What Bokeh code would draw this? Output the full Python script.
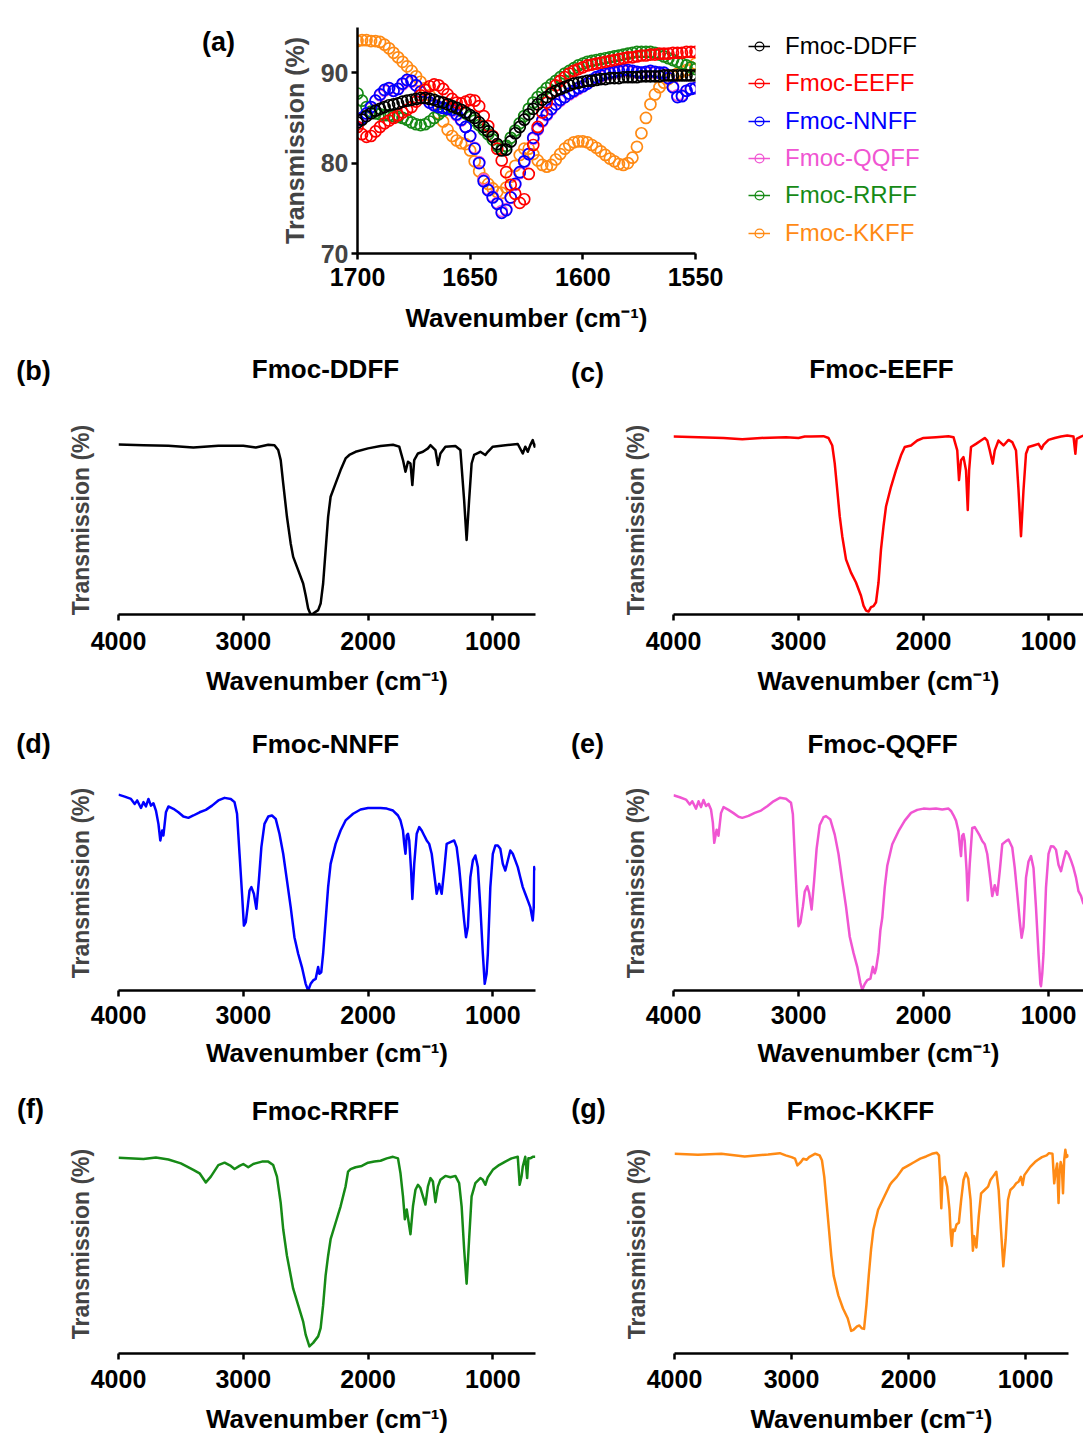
from bokeh.plotting import figure
from bokeh.models import Range1d, FixedTicker, Label, Legend, LegendItem, ColumnDataSource
from bokeh.layouts import column, row
from bokeh.embed import file_html
from bokeh.resources import INLINE

FONT = "Liberation Sans"

# ---------------- (a) amide I region, 1700-1550 cm-1 ----------------
amide_wn = list(range(1700, 1549, -2))

ddff_amide = [84.5, 84.8, 85.2, 85.5, 85.8, 86.0, 86.2, 86.4, 86.5, 86.6,
              86.8, 86.9, 87.0, 87.1, 87.2, 87.2, 87.1, 87.0, 86.8, 86.7,
              86.5, 86.3, 86.1, 85.9, 85.6, 85.3, 85.0, 84.5, 84.0, 83.5,
              82.9, 82.1, 81.4, 81.5, 82.4, 83.3, 84.0, 84.8, 85.4, 86.0,
              86.5, 87.0, 87.3, 87.7, 88.0, 88.2, 88.4, 88.6, 88.8, 88.9,
              89.0, 89.1, 89.1, 89.2, 89.3, 89.3, 89.4, 89.4, 89.4, 89.5,
              89.5, 89.5, 89.5, 89.6, 89.6, 89.6, 89.6, 89.6, 89.7, 89.7,
              89.7, 89.7, 89.7, 89.7, 89.7, 89.7]
eeff_amide = [84.0, 83.2, 82.9, 83.0, 83.5, 84.0, 84.4, 84.7, 85.0, 85.3,
              85.6, 85.9, 86.2, 86.8, 87.5, 88.1, 88.5, 88.7, 88.6, 88.2,
              87.6, 87.1, 86.7, 86.6, 86.8, 87.0, 86.9, 86.3, 85.2, 84.1,
              83.0, 81.6, 80.3, 79.0, 77.6, 76.6, 75.6, 76.0, 78.8, 82.0,
              84.0, 85.6, 86.7, 87.8, 88.6, 89.1, 89.5, 89.9, 90.2, 90.4,
              90.6, 90.8, 90.9, 91.0, 91.1, 91.2, 91.3, 91.4, 91.5, 91.6,
              91.7, 91.7, 91.8, 91.9, 91.9, 92.0, 92.0, 92.1, 92.1, 92.1,
              92.2, 92.2, 92.2, 92.3, 92.3, 92.3]
nnff_amide = [84.8, 85.0, 85.5, 86.2, 86.9, 87.6, 88.1, 88.3, 88.0, 88.2,
              88.8, 89.2, 89.1, 88.6, 87.9, 87.2, 86.7, 86.4, 86.2, 86.1,
              86.0, 85.9, 85.4, 84.8, 84.0, 83.0, 81.6, 80.0, 78.0, 77.0,
              76.2, 75.5, 74.5, 74.8, 76.2, 77.7, 79.0, 80.2, 81.0, 82.8,
              83.8, 84.7, 85.4, 86.0, 86.5, 87.0, 87.3, 87.7, 88.0, 88.3,
              88.5, 88.8, 89.2, 89.5, 89.7, 89.9, 90.0, 90.1, 90.2, 90.3,
              90.3, 90.2, 90.1, 90.0, 90.1, 90.2, 90.1, 90.0, 90.0, 89.4,
              88.4, 87.3, 87.4, 88.0, 88.2, 88.3]
qqff_amide = [84.7, 85.0, 85.4, 86.1, 86.9, 87.5, 88.0, 88.2, 88.0, 88.2,
              88.7, 89.1, 89.0, 88.6, 87.9, 87.2, 86.7, 86.4, 86.2, 86.1,
              86.0, 85.8, 85.3, 84.7, 84.0, 83.0, 81.7, 80.1, 78.2, 77.1,
              76.3, 75.6, 74.7, 74.9, 76.2, 77.6, 78.9, 80.1, 81.0, 82.7,
              83.7, 84.6, 85.3, 85.9, 86.5, 86.9, 87.3, 87.6, 87.9, 88.2,
              88.5, 88.8, 89.1, 89.4, 89.6, 89.8, 89.9, 90.0, 90.1, 90.2,
              90.2, 90.1, 90.0, 90.0, 90.0, 90.1, 90.0, 90.0, 89.9, 89.4,
              88.5, 87.5, 87.5, 88.0, 88.2, 88.3]
rrff_amide = [87.7, 86.9, 86.2, 85.7, 85.5, 85.4, 85.3, 85.3, 85.2, 85.1,
              85.0, 84.8, 84.5, 84.3, 84.2, 84.3, 84.6, 85.0, 85.4, 85.8,
              86.1, 86.2, 86.1, 85.8, 85.5, 85.1, 84.7, 84.2, 83.7, 83.2,
              82.6, 81.9, 81.6, 81.9, 82.8, 83.6, 84.4, 85.2, 86.0, 86.7,
              87.3, 87.8, 88.3, 88.7, 89.1, 89.5, 89.9, 90.2, 90.5, 90.8,
              91.0, 91.2, 91.3, 91.4, 91.5, 91.6, 91.7, 91.8, 91.9, 92.0,
              92.1, 92.2, 92.3, 92.3, 92.3, 92.3, 92.2, 92.0, 91.8, 91.6,
              91.4, 91.2, 91.0, 90.8, 90.6, 90.4]
kkff_amide = [93.5, 93.6, 93.6, 93.5, 93.5, 93.4, 93.1, 92.7, 92.2, 91.7,
              91.2, 90.7, 90.2, 89.6, 89.0, 88.3, 87.5, 86.5, 85.5, 84.6,
              83.7, 83.0, 82.5, 82.2, 82.1, 81.4, 80.2, 79.1, 78.3, 77.7,
              77.2, 76.8, 76.7, 77.3, 78.5, 79.7, 80.9, 81.6, 81.6, 81.0,
              80.3, 79.8, 79.6, 79.8, 80.4, 81.0, 81.6, 82.0, 82.3, 82.4,
              82.4, 82.3, 82.0, 81.7, 81.3, 80.9, 80.5, 80.2, 79.9, 79.8,
              80.0, 80.6, 81.8, 83.3, 85.0, 86.5, 87.6, 88.4, 88.9, 89.3,
              89.6, 89.9, 90.1, 90.3, 90.6, 91.0]

names = ["Fmoc-DDFF", "Fmoc-EEFF", "Fmoc-NNFF", "Fmoc-QQFF", "Fmoc-RRFF", "Fmoc-KKFF"]
colors = ["#000000", "#ff0000", "#0000ff", "#f055d2", "#168a16", "#ff8a14"]

# ---------------- full spectra, 4000-650 cm-1 ----------------
ddff_wn = [4000, 3800, 3600, 3400, 3200, 3000, 2900, 2800, 2750, 2720, 2700, 2680, 2650, 2620,
           2600, 2560, 2520, 2500, 2480, 2460, 2440, 2400, 2380, 2360, 2340, 2320, 2300, 2260,
           2220, 2180, 2150, 2100, 2000, 1900, 1800, 1750, 1720, 1700, 1680, 1660, 1645, 1630,
           1600, 1560, 1520, 1500, 1460, 1440, 1420, 1380, 1300, 1260, 1230, 1210, 1190, 1170,
           1150, 1100, 1060, 1040, 1000, 900, 800, 760, 740, 720, 700, 680, 665, 655]
ddff_t = [90.0, 89.6, 89.3, 88.4, 89.3, 89.3, 88.4, 89.8, 89.6, 87.0, 81.7, 69.4, 51.7, 37.6,
          30.5, 23.5, 16.4, 10.2, 3.2, 0.0, 0.5, 2.3, 5.8, 16.4, 34.1, 51.7, 62.3, 69.4,
          76.4, 82.6, 84.4, 86.1, 87.9, 89.1, 89.8, 88.8, 81.7, 75.5, 80.8, 79.9, 68.5, 81.7,
          85.2, 86.1, 87.9, 89.6, 87.0, 79.1, 85.2, 88.8, 89.1, 87.0, 60.5, 39.4, 60.5, 79.9,
          84.4, 86.1, 84.4, 86.1, 88.8, 89.6, 90.2, 85.2, 88.8, 86.1, 89.6, 92.3, 88.8, 90.4]

eeff_wn = [4000, 3800, 3600, 3450, 3300, 3100, 3000, 2950, 2900, 2800, 2760, 2730, 2710, 2690,
           2670, 2650, 2620, 2580, 2540, 2500, 2480, 2460, 2440, 2420, 2400, 2380, 2360, 2340,
           2320, 2300, 2260, 2220, 2180, 2150, 2100, 2050, 2000, 1900, 1800, 1760, 1730, 1716,
           1700, 1680, 1660, 1646, 1635, 1620, 1580, 1540, 1510, 1490, 1470, 1446, 1430, 1400,
           1360, 1320, 1290, 1260, 1240, 1220, 1200, 1180, 1160, 1120, 1080, 1056, 1040, 1000,
           950, 900, 850, 800, 785, 775, 760, 740, 720, 680, 650]
eeff_t = [90.0, 89.7, 89.3, 88.7, 89.3, 89.7, 89.3, 90.0, 90.0, 90.2, 89.3, 85.5, 76.3, 63.0,
          49.6, 39.6, 27.9, 21.2, 16.2, 9.5, 4.5, 2.0, 1.5, 3.7, 4.2, 6.2, 16.2, 32.9,
          44.6, 54.6, 64.6, 73.0, 80.5, 84.7, 85.5, 88.0, 89.3, 89.7, 90.2, 89.7, 83.0, 68.0,
          78.0, 79.6, 73.0, 52.9, 73.0, 84.7, 86.3, 88.0, 89.3, 88.0, 83.0, 76.3, 83.0, 88.0,
          85.5, 88.3, 87.2, 83.0, 63.0, 39.6, 63.0, 81.3, 84.7, 85.5, 86.3, 83.8, 85.8, 88.3,
          89.3, 90.0, 90.5, 90.0, 81.3, 88.8, 89.3, 90.0, 90.5, 90.0, 90.0]

nnff_wn = [4000, 3950, 3900, 3870, 3850, 3820, 3800, 3780, 3760, 3740, 3720, 3700, 3680, 3665,
           3650, 3640, 3620, 3600, 3560, 3520, 3480, 3440, 3400, 3350, 3300, 3250, 3200, 3150,
           3100, 3070, 3050, 3030, 3010, 2995, 2980, 2965, 2950, 2935, 2915, 2895, 2875, 2855,
           2830, 2800, 2770, 2740, 2710, 2680, 2650, 2620, 2590, 2560, 2530, 2500, 2480, 2460,
           2440, 2420, 2400, 2390, 2375, 2360, 2340, 2320, 2300, 2260, 2220, 2180, 2120, 2060,
           2000, 1900, 1850, 1800, 1760, 1740, 1720, 1710, 1700, 1690, 1680, 1670, 1655, 1645,
           1630, 1610, 1590, 1570, 1550, 1530, 1510, 1490, 1470, 1450, 1430, 1410, 1390, 1370,
           1340, 1310, 1290, 1270, 1250, 1230, 1215, 1200, 1180, 1160, 1140, 1120, 1100, 1080,
           1065, 1050, 1040, 1020, 1000, 980, 960, 940, 920, 900, 880, 860, 840, 820,
           800, 780, 760, 740, 720, 700, 680, 672, 668, 660]
nnff_t = [91.1, 90.2, 89.1, 86.8, 88.4, 84.9, 87.6, 85.6, 89.1, 86.0, 87.1, 83.7, 77.5, 69.8,
          74.4, 72.1, 82.9, 85.6, 84.5, 82.9, 80.9, 80.3, 81.4, 82.9, 84.0, 86.0, 88.4, 89.6,
          89.1, 87.6, 82.2, 63.6, 45.0, 30.2, 31.8, 38.8, 46.5, 48.1, 45.0, 38.0, 51.2, 66.7,
          77.5, 80.9, 81.4, 79.8, 72.9, 63.6, 51.2, 38.8, 24.8, 17.1, 10.9, 3.1, 0.0, 3.1,
          4.7, 5.4, 10.9, 7.8, 8.5, 17.1, 32.6, 48.1, 58.9, 68.2, 74.4, 79.1, 82.2, 84.2,
          84.9, 84.9, 84.6, 83.7, 81.4, 79.1, 74.4, 68.2, 63.6, 72.1, 72.9, 69.8, 55.8, 42.6,
          58.9, 72.9, 76.0, 74.4, 72.1, 69.8, 68.2, 63.6, 54.3, 45.0, 49.6, 45.0, 55.8, 68.2,
          69.0, 69.8, 66.7, 57.4, 45.0, 32.6, 24.8, 29.5, 52.7, 60.5, 62.8, 57.4, 38.8, 17.1,
          3.1, 7.8, 17.1, 48.1, 63.6, 67.4, 67.4, 65.9, 58.9, 55.8, 60.5, 65.1, 63.6, 60.5,
          57.4, 52.7, 48.1, 45.0, 41.9, 38.8, 32.6, 38.8, 57.4, 55.8]

qqff_wn = [4000, 3950, 3900, 3870, 3850, 3820, 3800, 3780, 3760, 3740, 3720, 3700, 3685, 3674,
           3655, 3640, 3620, 3600, 3560, 3520, 3480, 3450, 3400, 3350, 3300, 3250, 3200, 3150,
           3100, 3060, 3045, 3030, 3015, 3000, 2985, 2965, 2950, 2930, 2915, 2895, 2875, 2855,
           2830, 2800, 2780, 2745, 2710, 2680, 2650, 2620, 2590, 2560, 2530, 2505, 2490, 2470,
           2450, 2425, 2405, 2390, 2380, 2360, 2345, 2330, 2310, 2290, 2250, 2200, 2150, 2100,
           2050, 2000, 1950, 1900, 1850, 1800, 1780, 1760, 1740, 1720, 1710, 1700, 1690, 1680,
           1670, 1655, 1646, 1630, 1610, 1590, 1570, 1550, 1530, 1510, 1490, 1470, 1450, 1430,
           1410, 1390, 1370, 1340, 1320, 1290, 1270, 1250, 1230, 1215, 1200, 1180, 1160, 1140,
           1120, 1100, 1080, 1065, 1060, 1050, 1040, 1020, 1000, 980, 960, 940, 920, 900,
           880, 860, 840, 820, 800, 780, 760, 740, 723, 700, 680, 660]
qqff_t = [90.8, 89.9, 88.8, 86.5, 88.0, 84.6, 88.0, 85.3, 88.6, 85.8, 86.8, 84.2, 78.0, 68.7,
          74.8, 72.0, 82.5, 85.3, 84.0, 82.5, 80.8, 80.3, 81.2, 82.6, 83.7, 85.7, 88.0, 89.6,
          89.2, 87.3, 82.0, 63.0, 45.0, 29.9, 31.5, 39.0, 46.0, 48.5, 45.5, 37.7, 51.0, 66.0,
          77.0, 80.6, 81.1, 79.5, 72.5, 63.5, 51.0, 39.0, 25.0, 17.5, 11.0, 3.5, 0.3, 3.0,
          4.8, 5.5, 11.0, 8.0, 9.9, 17.5, 28.0, 33.8, 48.0, 58.0, 68.0, 74.1, 79.0, 82.6,
          84.0, 84.6, 84.4, 84.6, 84.2, 84.6, 83.5, 81.5, 79.0, 74.0, 68.0, 62.5, 72.0, 72.8,
          69.5, 55.5, 41.9, 59.0, 75.6, 76.0, 74.0, 72.0, 69.5, 68.0, 63.5, 54.0, 43.9, 49.0,
          44.5, 55.5, 68.0, 69.5, 70.2, 66.5, 57.0, 45.0, 32.5, 24.5, 29.5, 52.5, 60.0, 62.5,
          57.0, 38.5, 17.0, 3.0, 2.0, 7.8, 17.0, 48.0, 63.5, 67.1, 67.0, 65.5, 58.5, 55.5,
          60.5, 64.8, 63.5, 60.5, 57.0, 52.5, 46.2, 44.0, 40.8, 38.5, 33.0, 35.0]

rrff_wn = [4000, 3800, 3700, 3600, 3500, 3400, 3350, 3300, 3260, 3200, 3150, 3100, 3070, 3030,
           3000, 2960, 2920, 2850, 2800, 2760, 2730, 2700, 2680, 2650, 2620, 2600, 2560, 2520,
           2500, 2470, 2440, 2400, 2380, 2360, 2340, 2320, 2300, 2260, 2220, 2180, 2160, 2140,
           2100, 2050, 2000, 1950, 1900, 1850, 1800, 1760, 1740, 1720, 1705, 1690, 1680, 1660,
           1640, 1620, 1600, 1580, 1560, 1540, 1520, 1500, 1480, 1460, 1440, 1420, 1380, 1340,
           1300, 1270, 1250, 1230, 1210, 1190, 1170, 1140, 1100, 1080, 1060, 1040, 1000, 950,
           900, 850, 800, 785, 770, 760, 740, 725, 715, 700, 680, 660]
rrff_t = [90.3, 89.7, 90.4, 89.5, 87.7, 84.7, 83.1, 78.9, 81.6, 86.9, 88.0, 86.5, 85.1, 86.5,
          87.4, 85.9, 87.4, 88.5, 88.5, 86.9, 81.6, 69.5, 57.3, 45.1, 36.0, 29.9, 22.3, 14.7,
          8.7, 3.3, 4.9, 7.9, 11.7, 22.3, 36.0, 45.1, 52.7, 60.3, 67.9, 77.1, 83.9, 85.0,
          85.9, 86.5, 88.0, 88.5, 88.9, 90.0, 90.7, 90.0, 83.1, 72.5, 61.9, 66.4, 62.6, 55.0,
          67.9, 75.5, 77.8, 76.3, 72.5, 68.7, 77.1, 80.9, 79.3, 69.8, 77.1, 80.1, 81.9, 81.3,
          81.9, 78.6, 67.9, 48.2, 32.2, 52.7, 72.5, 78.6, 80.9, 80.1, 77.8, 81.3, 84.7, 86.9,
          88.5, 90.0, 90.7, 77.8, 81.6, 86.2, 90.7, 80.9, 90.0, 90.0, 90.7, 90.7]

kkff_wn = [4000, 3800, 3600, 3400, 3200, 3100, 3050, 3000, 2970, 2950, 2920, 2900, 2870, 2850,
           2800, 2760, 2740, 2720, 2700, 2680, 2660, 2640, 2600, 2560, 2520, 2490, 2470, 2440,
           2420, 2400, 2380, 2360, 2340, 2320, 2300, 2260, 2220, 2180, 2160, 2140, 2100, 2050,
           2000, 1950, 1900, 1850, 1800, 1760, 1740, 1730, 1720, 1710, 1690, 1670, 1650, 1640,
           1630, 1620, 1605, 1590, 1570, 1550, 1530, 1510, 1490, 1470, 1450, 1440, 1420, 1400,
           1380, 1350, 1320, 1300, 1270, 1250, 1230, 1210, 1190, 1170, 1150, 1130, 1100, 1080,
           1060, 1040, 1025, 1010, 960, 920, 900, 860, 820, 800, 770, 755, 745, 730,
           718, 710, 700, 690, 680, 670, 660, 650, 640, 630]
kkff_t = [90.0, 89.6, 90.0, 88.8, 89.7, 90.3, 89.3, 88.5, 87.8, 84.8, 86.3, 87.8, 87.3, 88.5,
          90.0, 89.3, 87.1, 79.6, 67.8, 55.9, 44.0, 35.1, 26.2, 20.3, 15.9, 10.2, 10.7, 12.2,
          12.6, 11.4, 11.1, 21.8, 35.1, 47.0, 55.9, 64.8, 69.3, 73.7, 75.9, 77.4, 79.6, 83.3,
          84.8, 86.3, 87.8, 88.8, 90.0, 90.5, 89.3, 79.6, 65.5, 78.9, 79.6, 75.2, 64.8, 54.4,
          48.5, 55.9, 55.2, 58.1, 58.9, 69.3, 78.2, 81.4, 78.9, 69.3, 46.3, 52.9, 47.8, 61.8,
          72.2, 73.7, 75.2, 78.2, 80.4, 81.9, 73.7, 55.9, 39.3, 51.5, 69.3, 73.7, 75.2, 76.7,
          77.4, 79.6, 75.9, 80.4, 84.1, 86.3, 87.1, 88.5, 89.3, 90.3, 90.0, 76.7, 81.1, 85.6,
          67.8, 81.1, 86.3, 84.1, 72.2, 87.1, 91.8, 88.5, 89.3, 88.5]

XLABEL = "Wavenumber (cm\u207b\u00b9)"
YLABEL = "Transmission (%)"


def clean(p):
    p.outline_line_color = None
    p.grid.visible = False
    p.background_fill_color = "white"
    p.border_fill_color = "white"


def style_x(p, tick_px, label_px, tick_standoff, label_standoff):
    ax = p.xaxis[0]
    ax.axis_line_width = 2.5
    ax.axis_line_color = "black"
    ax.major_tick_line_width = 2.5
    ax.major_tick_line_color = "black"
    ax.major_tick_out = 6
    ax.major_tick_in = 0
    ax.minor_tick_line_color = None
    ax.major_label_text_font = FONT
    ax.major_label_text_font_style = "bold"
    ax.major_label_text_font_size = f"{tick_px}px"
    ax.major_label_text_color = "black"
    ax.major_label_standoff = tick_standoff
    ax.axis_label_text_font = FONT
    ax.axis_label_text_font_style = "bold"
    ax.axis_label_text_font_size = f"{label_px}px"
    ax.axis_label_text_color = "black"
    ax.axis_label_standoff = label_standoff


def blank(width, height, top=0, bottom=0):
    """An axis-free canvas whose data units are pixels, used for free text."""
    fh = height - top - bottom
    b = figure(frame_width=width, frame_height=fh, min_border_left=0, min_border_right=0,
               min_border_top=top, min_border_bottom=bottom,
               x_range=Range1d(0, width), y_range=Range1d(0, fh),
               x_axis_type=None, y_axis_type=None,
               output_backend="svg", toolbar_location=None)
    b.outline_line_color = None
    b.background_fill_color = "white"
    b.border_fill_color = "white"
    return b


def add_text(p, x, y, text, size, bold=True, color="black"):
    p.add_layout(Label(x=x, y=y, text=text, text_font=FONT,
                       text_font_style="bold" if bold else "normal",
                       text_font_size=f"{size}px", text_color=color,
                       text_align="center", text_baseline="middle"))


# ---------------- panel (a) ----------------
A_TOP, A_FRAME, A_BOTTOM = 27, 226, 92

tag_a = blank(270, 345, A_TOP, A_BOTTOM)
add_text(tag_a, 218, A_FRAME - 14, "(a)", 27)

pa = figure(frame_width=338, frame_height=A_FRAME,
            min_border_left=87, min_border_right=30, min_border_top=A_TOP, min_border_bottom=A_BOTTOM,
            x_range=Range1d(1700, 1550), y_range=Range1d(70, 95),
            x_axis_label=XLABEL, y_axis_label=YLABEL,
            output_backend="svg", toolbar_location=None)
clean(pa)
pa.xaxis.ticker = FixedTicker(ticks=[1700, 1650, 1600, 1550])
pa.yaxis.ticker = FixedTicker(ticks=[70, 80, 90])
style_x(pa, 25, 26, 8, 14)
ay = pa.yaxis[0]
ay.axis_line_width = 2.5
ay.axis_line_color = "black"
ay.major_tick_line_width = 2.5
ay.major_tick_out = 6
ay.major_tick_in = 0
ay.minor_tick_line_color = None
ay.major_label_text_font = FONT
ay.major_label_text_font_style = "bold"
ay.major_label_text_font_size = "25px"
ay.major_label_standoff = 3
ay.axis_label_text_font = FONT
ay.axis_label_text_font_style = "bold"
ay.axis_label_text_font_size = "25px"
ay.axis_label_standoff = 9

amide_series = dict(zip(names, [ddff_amide, eeff_amide, nnff_amide,
                                qqff_amide, rrff_amide, kkff_amide]))
color_of = dict(zip(names, colors))
for nm in ["Fmoc-KKFF", "Fmoc-QQFF", "Fmoc-RRFF", "Fmoc-NNFF", "Fmoc-EEFF", "Fmoc-DDFF"]:
    src = ColumnDataSource(dict(x=amide_wn, y=amide_series[nm]))
    pa.scatter("x", "y", source=src, marker="circle", size=11,
               fill_color=None, line_color=color_of[nm], line_width=1.7)

# legend panel to the right of (a): one key per series, text in the series colour.
# The key renderers hold a single point placed off-canvas so only the legend swatch shows.
key = blank(358, 345, A_TOP, A_BOTTOM)
legend_rows = [46, 83, 121, 158, 195, 233]
for nm, yc in zip(names, legend_rows):
    k_line = key.line(x=[-50, -40], y=[-50, -50], line_color=color_of[nm], line_width=1.5)
    k_dot = key.scatter(x=[-50], y=[-50], marker="circle", fill_color=None,
                        line_color=color_of[nm], line_width=1.3)
    lg = Legend(items=[LegendItem(label=nm, renderers=[k_line, k_dot])],
                location=(23, A_TOP + A_FRAME - 14 - yc),
                glyph_width=22, glyph_height=28, label_height=28, label_standoff=15,
                padding=0, spacing=0, margin=0,
                border_line_color=None, background_fill_alpha=0,
                label_text_font=FONT, label_text_font_size="24px",
                label_text_color=color_of[nm])
    key.add_layout(lg)


# ---------------- panels (b)-(g) ----------------
def spectrum(wn, t, color, x_end, y_end, fw, fh, bl, br, bt, bb, s1, s2):
    p = figure(frame_width=fw, frame_height=fh,
               min_border_left=bl, min_border_right=br, min_border_top=bt, min_border_bottom=bb,
               x_range=Range1d(4000, x_end), y_range=Range1d(0, y_end),
               x_axis_label=XLABEL, y_axis_label=YLABEL,
               output_backend="svg", toolbar_location=None)
    clean(p)
    p.xaxis.ticker = FixedTicker(ticks=[4000, 3000, 2000, 1000])
    style_x(p, 25, 26, s1, s2)
    ay = p.yaxis[0]
    ay.ticker = FixedTicker(ticks=[])
    ay.axis_line_color = None
    ay.major_tick_line_color = None
    ay.minor_tick_line_color = None
    ay.major_tick_out = 0
    ay.major_tick_in = 0
    ay.major_label_standoff = 0
    ay.axis_label_text_font = FONT
    ay.axis_label_text_font_style = "bold"
    ay.axis_label_text_font_size = "23px"
    ay.axis_label_standoff = 25
    p.line(wn, t, line_color=color, line_width=2.5, line_join="round")
    return p


def header(height, left_items, right_items):
    hl = blank(560, height)
    hr = blank(523, height)
    for x, y, txt, size in left_items:
        add_text(hl, x, y, txt, size)
    for x, y, txt, size in right_items:
        add_text(hr, x, y, txt, size)
    return row(hl, hr)


h1 = header(50, [(33, 25, "(b)", 27), (325, 27, "Fmoc-DDFF", 26)],
                [(27, 23, "(c)", 27), (321, 27, "Fmoc-EEFF", 26)])
pb = spectrum(ddff_wn, ddff_t, colors[0], 658, 100, 417, 189, 118, 25, 30, 101, 11, 13)
pc = spectrum(eeff_wn, eeff_t, colors[1], 720, 95.6, 410, 189, 113, 0, 30, 101, 11, 13)

h2 = header(50, [(33, 22, "(d)", 27), (325, 22, "Fmoc-NNFF", 26)],
                [(27, 22, "(e)", 27), (322, 22, "Fmoc-QQFF", 26)])
pd = spectrum(nnff_wn, nnff_t, colors[2], 658, 100, 417, 215, 118, 25, 10, 95, 9, 11)
pe = spectrum(qqff_wn, qqff_t, colors[3], 720, 100, 410, 215, 113, 0, 10, 95, 9, 11)

h3 = header(45, [(30, 22, "(f)", 27), (325, 20, "Fmoc-RRFF", 26)],
                [(28, 22, "(g)", 27), (300, 20, "Fmoc-KKFF", 26)])
pf = spectrum(rrff_wn, rrff_t, colors[4], 658, 101, 417, 219, 118, 25, 4, 81, 10, 13)
pg = spectrum(kkff_wn, kkff_t, colors[5], 633, 98.7, 394, 219, 114, 15, 4, 81, 10, 13)

layout = column(row(tag_a, pa, key), h1, row(pb, pc), h2, row(pd, pe), h3, row(pf, pg))

with open("out.html", "w") as f:
    f.write(file_html(layout, INLINE))
